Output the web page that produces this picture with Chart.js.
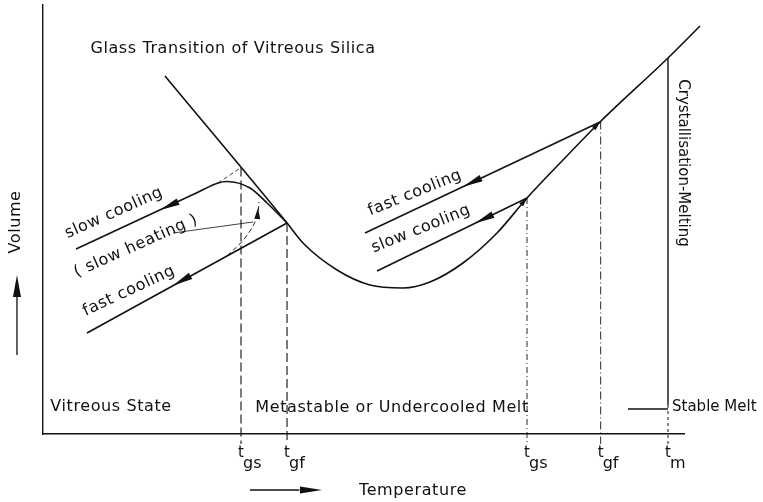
<!DOCTYPE html>
<html>
<head>
<meta charset="utf-8">
<title>Glass Transition of Vitreous Silica</title>
<script src="https://cdn.jsdelivr.net/npm/chart.js@4.4.1/dist/chart.umd.min.js"></script>
<style>
  html, body { margin: 0; padding: 0; background: #fff; }
  #wrap { width: 763px; height: 502px; }
</style>
</head>
<body>
<div id="wrap"><canvas id="glassChart" width="763" height="502"></canvas></div>
<script>
// temperature (x) and volume (y), arbitrary units, 0..100 along the drawn axes
var meltCurve = [[19.03,83.45],[38.07,49.18],[40.56,44.52],[45.87,38.23],[51.01,34.73],[56.16,34.03],
                 [60.37,35.43],[65.52,39.86],[70.83,46.85],[75.51,55.01],[81.12,63.87],[86.90,72.73],
                 [97.50,87.65],[102.50,95.10]];
var slowGlassLeft = [[5.15,43.12],[16.20,50.80],[24.00,56.22],[27.30,58.51],[28.71,58.86],[32.29,57.34],
                     [34.95,53.85],[38.07,49.18]];
var fastGlassLeft = [[6.86,23.54],[38.07,49.18]];
var fastGlassRight = [[50.23,46.85],[86.90,72.73]];
var slowGlassRight = [[52.11,38.00],[75.51,55.01]];
var slowExtension = [[27.30,58.51],[30.89,62.10]];
var slowHeating = [[28.71,41.49],[31.51,45.69],[33.39,50.58],[33.70,54.08]];
var heatingLeader = [[20.28,46.85],[32.76,49.42]];

// transition temperatures on the axis
var tickValues = [30.89, 38.07, 75.51, 87.00, 97.50];
var tickSubs = ['gs', 'gf', 'gs', 'gf', 'm'];
var glassTops = [62.10, 49.18, 55.01, 72.85];
var meltTop = 87.65;
var stableMeltLevel = 5.83;
var stableLeaderStart = 91.26;

// arrows: tip x, tip y, point behind the tip (x, y)
var flowArrows = [[18.25,52.21,27.30,58.51],[20.28,34.62,38.07,49.18],
                  [65.52,57.65,86.90,72.73],[67.39,49.11,75.51,55.01]];
var heatArrow = [33.54,52.68,33.39,49.42];
var junctionArrows = [[75.51,55.01,70.83,46.85],[86.90,72.73,81.12,63.87]];

function pts(a) { return a.map(function (p) { return { x: p[0], y: p[1] }; }); }

var black = '#111';
function lineSet(data, width, dash, extra) {
  var ds = {
    data: pts(data), showLine: true, pointRadius: 0, borderColor: black,
    borderWidth: width, borderDash: dash || [], fill: false, clip: false
  };
  for (var k in extra) ds[k] = extra[k];
  return ds;
}

var datasets = [
  lineSet(meltCurve, 1.6, null, { cubicInterpolationMode: 'monotone' }),
  lineSet(slowGlassLeft, 1.6, null, { cubicInterpolationMode: 'monotone' }),
  lineSet(fastGlassLeft, 1.6),
  lineSet(fastGlassRight, 1.5),
  lineSet(slowGlassRight, 1.5),
  lineSet(slowExtension, 0.8, [4, 3]),
  lineSet(slowHeating, 0.9, [5, 3], { tension: 0.4 }),
  lineSet(heatingLeader, 0.8)
];
var dashes = [[9, 4], [9, 4], [6, 3, 1, 3], [8, 3, 1, 3]];
glassTops.forEach(function (top, i) {
  datasets.push(lineSet([[tickValues[i], top], [tickValues[i], -2.33]], i < 2 ? 1.1 : 0.9, dashes[i]));
});
datasets.push(lineSet([[tickValues[4], meltTop], [tickValues[4], 6.76]], 1.4));
datasets.push(lineSet([[tickValues[4], 6.76], [tickValues[4], -2.33]], 1, [3, 3]));
datasets.push(lineSet([[stableLeaderStart, stableMeltLevel], [tickValues[4], stableMeltLevel]], 1.3));

function arrowHead(ctx, tx, ty, rx, ry, len, half) {
  var dx = tx - rx, dy = ty - ry, d = Math.hypot(dx, dy);
  var ux = dx / d, uy = dy / d;
  var bx = tx - ux * len, by = ty - uy * len;
  ctx.beginPath();
  ctx.moveTo(tx, ty);
  ctx.lineTo(bx - uy * half, by + ux * half);
  ctx.lineTo(bx + uy * half, by - ux * half);
  ctx.closePath();
  ctx.fill();
}

var labelPlugin = {
  id: 'labels',
  afterDraw: function (chart) {
    var ctx = chart.ctx, xs = chart.scales.x, ys = chart.scales.y;
    function X(v) { return xs.getPixelForValue(v); }
    function Y(v) { return ys.getPixelForValue(v); }
    ctx.save();
    ctx.fillStyle = black;
    ctx.strokeStyle = black;

    flowArrows.forEach(function (a) { arrowHead(ctx, X(a[0]), Y(a[1]), X(a[2]), Y(a[3]), 20, 3.5); });
    arrowHead(ctx, X(heatArrow[0]), Y(heatArrow[1]), X(heatArrow[2]), Y(heatArrow[3]), 11, 3);
    junctionArrows.forEach(function (a) { arrowHead(ctx, X(a[0]), Y(a[1]), X(a[2]), Y(a[3]), 9, 2.5); });

    // axis direction arrows
    ctx.lineWidth = 1.3;
    ctx.beginPath();
    ctx.moveTo(X(-4.06), Y(18.41)); ctx.lineTo(X(-4.06), Y(33));
    ctx.moveTo(X(32.29), Y(-13.05)); ctx.lineTo(X(40), Y(-13.05));
    ctx.stroke();
    arrowHead(ctx, X(-4.06), Y(37.06), X(-4.06), Y(18.41), 22, 4);
    arrowHead(ctx, X(43.53), Y(-13.05), X(32.29), Y(-13.05), 22, 3.5);

    function text(str, x, y, deg, align) {
      ctx.save();
      ctx.translate(X(x), Y(y));
      ctx.rotate((deg || 0) * Math.PI / 180);
      ctx.textAlign = align || 'center';
      ctx.textBaseline = 'middle';
      ctx.fillText(str, 0, 0);
      ctx.restore();
    }
    ctx.font = '16px "DejaVu Sans"';
    ctx.letterSpacing = '0.6px';
    text('Glass Transition of Vitreous Silica', 29.64, 89.74);
    text('Vitreous State', 10.61, 6.29);
    text('Metastable or Undercooled Melt', 54.45, 6.06);
    text('Volume', -4.21, 49.42, -90);
    text('Temperature', 57.72, -13.29);
    text('slow cooling', 11.08, 51.52, -24);
    text('( slow heating )', 14.51, 43.82, -24);
    text('fast cooling', 13.42, 33.33, -25);
    text('fast cooling', 58.03, 56.18, -22);
    text('slow cooling', 58.97, 47.79, -22);
    ctx.font = '15px "DejaVu Sans"';
    ctx.letterSpacing = '0px';
    text('Stable Melt', 98.13, 6.29, 0, 'left');
    text('Crystallisation-Melting', 99.84, 63.17, 90);

    // transition temperature labels with subscripts
    var base = ys.bottom;
    tickValues.forEach(function (v, i) {
      var px = X(v);
      ctx.textBaseline = 'alphabetic';
      ctx.textAlign = 'center';
      ctx.font = '15px "DejaVu Sans"';
      ctx.fillText('t', px, base + 23);
      ctx.textAlign = 'left';
      ctx.font = '16px "DejaVu Sans"';
      ctx.fillText(tickSubs[i], px + 2, base + 34);
    });
    ctx.restore();
  }
};

new Chart(document.getElementById('glassChart'), {
  type: 'scatter',
  data: { datasets: datasets },
  options: {
    responsive: false,
    animation: false,
    layout: { padding: { left: 43, top: 5, right: 79, bottom: 68 } },
    plugins: { legend: { display: false }, tooltip: { enabled: false } },
    scales: {
      x: {
        type: 'linear', min: 0, max: 100,
        ticks: { display: false }, grid: { display: false, drawTicks: false },
        border: { display: true, color: black, width: 1.4 }
      },
      y: {
        type: 'linear', min: 0, max: 100,
        ticks: { display: false }, grid: { display: false, drawTicks: false },
        border: { display: true, color: black, width: 1.4 }
      }
    }
  },
  plugins: [labelPlugin]
});
</script>
</body>
</html>
